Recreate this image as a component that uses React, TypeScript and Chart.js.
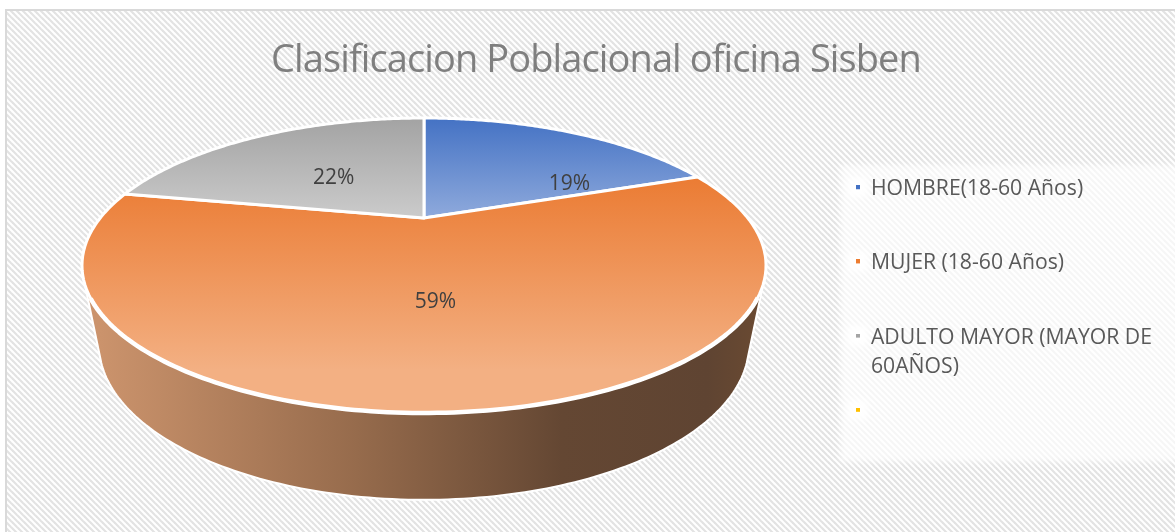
import React, { useEffect, useRef } from "react";
import { Chart, registerables } from "chart.js";

Chart.register(...registerables);

const chartTitle = "Clasificacion Poblacional oficina Sisben";
const categories = ["HOMBRE(18-60 Años)", "MUJER (18-60 Años)", "ADULTO MAYOR (MAYOR DE 60AÑOS)", ""];
const shares = [19.4, 58.7, 21.9, 0];
const keyColors = ["#4472C4", "#ED7D31", "#A5A5A5", "#FFC000"];
const legendWrapChars = 22;

// surface look per slice: top and bottom of the vertical gradient
const faceTop = ["#4472C4", "#EB7C34", "#A3A3A3", "#FFC000"];
const faceBottom = ["#8FAADC", "#F3B083", "#CBCBCB", "#FFD966"];
const faceBand = [[118, 218], [179, 370], [118, 218], [118, 218]];
// percent label placement: fraction through the slice, fraction of the radius
const labelAlong = [0.84, 0.506, 0.476, 0.5];
const labelRadial = [0.577, 0.518, 0.47, 0.5];

// tilted-disc projection of the unit circle onto the page
const CX = 424, APEX = 218, PERSP = -0.322, VY = 62, KX = 323.8;
const project = (u: number, v: number) => {
  const w = 1 + PERSP * v;
  return { x: CX + (KX * u) / w, y: (VY * v + APEX) / w };
};
// lower rim of the drum
const RIM_CY = 265.5, LOW_CY = 345, LOW_SX = 0.95, LOW_SY = 1.05;
const lower = (p: { x: number; y: number }) => ({
  x: CX + (p.x - CX) * LOW_SX,
  y: LOW_CY + (p.y - RIM_CY) * LOW_SY,
});
const deg = Math.PI / 180;

// legend key: a 4px square sitting 2px above the text's centre line
const keyImage = (color: string) => {
  const c = document.createElement("canvas");
  c.width = 4;
  c.height = 8;
  const k = c.getContext("2d")!;
  k.fillStyle = color;
  k.fillRect(0, 0, 4, 4);
  return c;
};

const pieRig = {
  id: "pieRig",
  beforeDraw(chart: any) {
    const { ctx, width, height } = chart;
    const block = chart.titleBlock;
    if (block && !block.__spaced) {
      const original = block.draw.bind(block);
      block.draw = (...args: any[]) => {
        ctx.letterSpacing = "-0.9px";
        original(...args);
        ctx.letterSpacing = "0px";
      };
      block.__spaced = true;
    }
    ctx.save();
    ctx.fillStyle = "#ffffff";
    ctx.fillRect(0, 0, width, height);
    const tile = document.createElement("canvas");
    tile.width = 6;
    tile.height = 6;
    const t = tile.getContext("2d")!;
    t.fillStyle = "#ffffff";
    t.fillRect(0, 0, 6, 6);
    t.strokeStyle = "#e3e3e3";
    t.lineWidth = 2.2;
    for (let i = -6; i <= 6; i += 6) {
      t.beginPath();
      t.moveTo(i - 1, -1);
      t.lineTo(i + 7, 7);
      t.stroke();
    }
    ctx.fillStyle = ctx.createPattern(tile, "repeat");
    ctx.fillRect(6, 10, width - 6, height - 10);
    ctx.strokeStyle = "#d9d9d9";
    ctx.lineWidth = 2;
    ctx.beginPath();
    ctx.moveTo(6, height);
    ctx.lineTo(6, 10);
    ctx.lineTo(width, 10);
    ctx.stroke();
    // legend panel
    ctx.filter = "blur(3px)";
    ctx.fillStyle = "rgba(255,255,255,0.68)";
    ctx.fillRect(840, 165, 340, 297);
    ctx.fillStyle = "rgba(255,255,255,0.95)";
    const hit = chart.legend?.legendHitBoxes || [];
    hit.forEach((b: any) => {
      ctx.fillRect(b.left - 9, b.top + b.height / 2 - 12, 20, 20);
    });
    ctx.restore();
  },
  beforeDatasetDraw(chart: any) {
    const { ctx } = chart;
    const arcs = chart.getDatasetMeta(0).data;
    // side wall: the slice that holds the front of the disc
    const front = arcs.find((a: any) => a.startAngle < 30 * deg && a.endAngle > 150 * deg);
    const a0 = 30.4 * deg, a1 = 149.6 * deg;
    ctx.save();
    if (front) {
      const grad = ctx.createLinearGradient(100, 0, 760, 0);
      grad.addColorStop(0, "#CB936C");
      grad.addColorStop(0.39, "#966B4C");
      grad.addColorStop(0.7, "#644733");
      grad.addColorStop(0.92, "#5F4432");
      grad.addColorStop(1, "#6A4A32");
      ctx.beginPath();
      const start = project(Math.cos(26 * deg), Math.sin(26 * deg));
      ctx.moveTo(start.x, start.y);
      for (let a = 25; a <= 155; a += 1) {
        const p = lower(project(Math.cos(a * deg), Math.sin(a * deg)));
        ctx.lineTo(p.x, p.y);
      }
      const end = project(Math.cos(154 * deg), Math.sin(154 * deg));
      ctx.lineTo(end.x, end.y);
      ctx.closePath();
      ctx.fillStyle = grad;
      ctx.fill();
      ctx.strokeStyle = "#ffffff";
      ctx.lineWidth = 2;
      ctx.stroke();
    }
    // top faces
    arcs.forEach((arc: any, i: number) => {
      if (arc.endAngle - arc.startAngle <= 0) return;
      const c = project(0, 0);
      ctx.beginPath();
      ctx.moveTo(c.x, c.y);
      const steps = 120;
      for (let s = 0; s <= steps; s++) {
        const a = arc.startAngle + ((arc.endAngle - arc.startAngle) * s) / steps;
        const p = project(Math.cos(a), Math.sin(a));
        ctx.lineTo(p.x, p.y);
      }
      ctx.closePath();
      const g = ctx.createLinearGradient(0, faceBand[i][0], 0, faceBand[i][1]);
      g.addColorStop(0, faceTop[i]);
      g.addColorStop(1, faceBottom[i]);
      ctx.fillStyle = g;
      ctx.fill();
      ctx.strokeStyle = "#ffffff";
      ctx.lineWidth = 3;
      ctx.lineJoin = "round";
      ctx.stroke();
    });
    // heavier white lip along the front of the disc
    if (front) {
      ctx.beginPath();
      for (let a = a0 / deg; a <= a1 / deg; a += 1) {
        const p = project(Math.cos(a * deg), Math.sin(a * deg));
        ctx.lineTo(p.x, p.y);
      }
      ctx.strokeStyle = "#ffffff";
      ctx.lineWidth = 4.5;
      ctx.stroke();
    }
    // percent labels
    const total = shares.reduce((s, v) => s + v, 0);
    ctx.font = "21px 'Open Sans'";
    ctx.fillStyle = "#404040";
    ctx.textAlign = "center";
    ctx.textBaseline = "middle";
    arcs.forEach((arc: any, i: number) => {
      if (!shares[i]) return;
      const a = arc.startAngle + (arc.endAngle - arc.startAngle) * labelAlong[i];
      const p = project(Math.cos(a) * labelRadial[i], Math.sin(a) * labelRadial[i]);
      ctx.fillText(Math.round((shares[i] / total) * 100) + "%", p.x, p.y + 2);
    });
    ctx.restore();
    return false;
  },
  afterDraw(chart: any) {
    const { ctx, legend } = chart;
    const full = categories[2];
    const cut = full.lastIndexOf(" ", legendWrapChars + 1);
    const box = legend?.legendHitBoxes?.[2];
    if (!box) return;
    ctx.save();
    ctx.font = "21.2px 'Open Sans'";
    ctx.fillStyle = "#595959";
    ctx.textAlign = "left";
    ctx.textBaseline = "middle";
    ctx.fillText(full.slice(cut + 1), box.left + 4 + 10.6, box.top + box.height / 2 + 29);
    ctx.restore();
  },
};

export default function App() {
  const ref = useRef<HTMLCanvasElement | null>(null);
  useEffect(() => {
    if (!ref.current) return;
    const chart = new Chart(ref.current, {
      type: "pie",
      data: {
        labels: categories,
        datasets: [{ data: shares, backgroundColor: keyColors, borderWidth: 0 }],
      },
      options: {
        responsive: false,
        animation: false,
        layout: { padding: { left: 30, right: 13 } },
        plugins: {
          tooltip: { enabled: false },
          title: {
            display: true,
            text: chartTitle,
            color: "#7F7F7F",
            font: { family: "'Open Sans'", size: 38, weight: "normal" },
            padding: { top: 38, bottom: 42 },
          },
          legend: {
            position: "right",
            align: "start",
            fullSize: false,
            labels: {
              boxWidth: 4,
              boxHeight: 4,
              usePointStyle: true,
              padding: 53,
              color: "#595959",
              font: { family: "'Open Sans'", size: 21.2 },
              generateLabels: () =>
                categories.map((text, i) => ({
                  text: text.length > legendWrapChars + 1 ? text.slice(0, text.lastIndexOf(" ", legendWrapChars + 1)) : text,
                  fillStyle: keyColors[i],
                  strokeStyle: keyColors[i],
                  pointStyle: keyImage(keyColors[i]),
                  fontColor: "#595959",
                  lineWidth: 0,
                  hidden: false,
                  index: i,
                })),
            },
          },
        },
      },
      plugins: [pieRig],
    } as any);
    return () => chart.destroy();
  }, []);
  return (
    <div style={{ position: "fixed", left: 0, top: 0, width: 1175, height: 532 }}>
      <canvas ref={ref} width={1175} height={532} style={{ display: "block" }} />
    </div>
  );
}
